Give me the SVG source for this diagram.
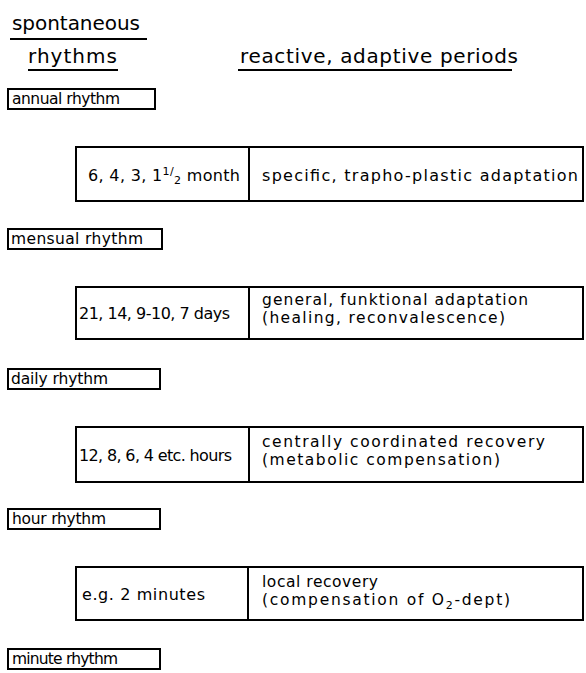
<svg xmlns="http://www.w3.org/2000/svg" width="586" height="673" viewBox="0 0 586 673">
<style>
.bx{fill:none;stroke:#000;stroke-width:2}
.ln{stroke:#000;stroke-width:2}
.ul{stroke:#000;stroke-width:2.2}
text{font-family:"DejaVu Sans","Liberation Sans",sans-serif;fill:#000}
.h{font-size:20px}
.s{font-size:15.5px}
.b{font-size:16px}
.r{font-size:15.5px}
.sm{font-size:11px}
</style>
<rect width="586" height="673" fill="#fff"/>
<g id="headers">
<text class="h" x="12" y="30" textLength="128" lengthAdjust="spacing">spontaneous</text>
<line class="ul" x1="10" y1="39" x2="147" y2="39"/>
<text class="h" x="28" y="63" textLength="89" lengthAdjust="spacing">rhythms</text>
<line class="ul" x1="28" y1="70" x2="118" y2="70"/>
<text class="h" x="240" y="63" textLength="278" lengthAdjust="spacing">reactive, adaptive periods</text>
<line class="ul" x1="238" y1="70" x2="512" y2="70"/>
</g>
<g id="annual">
<rect class="bx" x="8" y="89" width="147" height="20"/>
<text class="s" x="12" y="104" textLength="108" lengthAdjust="spacing">annual rhythm</text>
</g>
<g id="period1">
<rect class="bx" x="76" y="147" width="507" height="54"/>
<line class="ln" x1="249" y1="147" x2="249" y2="201"/>
<text class="b" x="88" y="181" textLength="152" lengthAdjust="spacing">6, 4, 3, 1<tspan class="sm" dy="-6">1</tspan><tspan class="sm">/</tspan><tspan class="sm" dy="9">2</tspan><tspan dy="-3"> month</tspan></text>
<text class="b" x="262" y="181" textLength="316" lengthAdjust="spacing">specific, trapho-plastic adaptation</text>
</g>
<g id="mensual">
<rect class="bx" x="8" y="229" width="154" height="20"/>
<text class="s" x="11" y="244" textLength="132" lengthAdjust="spacing">mensual rhythm</text>
</g>
<g id="period2">
<rect class="bx" x="76" y="287" width="507" height="52"/>
<line class="ln" x1="249" y1="287" x2="249" y2="339"/>
<text class="b" x="79" y="319" textLength="151" lengthAdjust="spacing">21, 14, 9-10, 7 days</text>
<text class="r" x="262" y="305" textLength="266" lengthAdjust="spacing">general, funktional adaptation</text>
<text class="r" x="262" y="323" textLength="243" lengthAdjust="spacing">(healing, reconvalescence)</text>
</g>
<g id="daily">
<rect class="bx" x="8" y="369" width="152" height="20"/>
<text class="s" x="11" y="384" textLength="97" lengthAdjust="spacing">daily rhythm</text>
</g>
<g id="period3">
<rect class="bx" x="76" y="427" width="507" height="55"/>
<line class="ln" x1="249" y1="427" x2="249" y2="482"/>
<text class="b" x="79" y="461" textLength="153" lengthAdjust="spacing">12, 8, 6, 4 etc. hours</text>
<text class="r" x="262" y="447" textLength="283" lengthAdjust="spacing">centrally coordinated recovery</text>
<text class="r" x="262" y="465" textLength="238" lengthAdjust="spacing">(metabolic compensation)</text>
</g>
<g id="hour">
<rect class="bx" x="8" y="509" width="152" height="20"/>
<text class="s" x="12" y="524" textLength="94" lengthAdjust="spacing">hour rhythm</text>
</g>
<g id="period4">
<rect class="bx" x="76" y="567" width="507" height="53"/>
<line class="ln" x1="248" y1="567" x2="248" y2="620"/>
<text class="b" x="82" y="600" textLength="123" lengthAdjust="spacing">e.g. 2 minutes</text>
<text class="r" x="262" y="587" textLength="116" lengthAdjust="spacing">local recovery</text>
<text class="r" x="262" y="605" textLength="248" lengthAdjust="spacing">(compensation of O<tspan class="sm" dy="4">2</tspan><tspan dy="-4">-dept)</tspan></text>
</g>
<g id="minute">
<rect class="bx" x="8" y="649" width="152" height="20"/>
<text class="s" x="12" y="664" textLength="106" lengthAdjust="spacing">minute rhythm</text>
</g>
<g id="connectors"></g>
</svg>
